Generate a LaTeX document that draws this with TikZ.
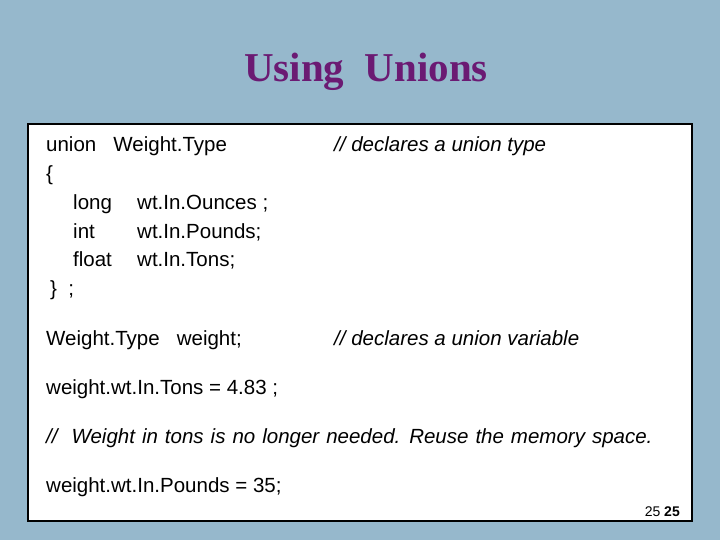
\documentclass[tikz,border=0pt]{standalone}
\usepackage{fontspec}
\setmainfont{Liberation Sans}
\newfontfamily\titlefont{Liberation Serif}
\definecolor{bg}{HTML}{96B8CC}
\definecolor{ttl}{HTML}{6B1A73}
\begin{document}
\begin{tikzpicture}[x=1pt,y=-1pt,
  tx/.style={anchor=base west,inner sep=0pt,font=\fontsize{20.5}{24}\selectfont},
  it/.style={tx,font=\fontsize{20.5}{24}\selectfont\itshape}]
\useasboundingbox (0,0) rectangle (720,540);
\fill[bg] (0,0) rectangle (720,540);
\node[anchor=base,inner sep=0pt,text=ttl,font=\fontsize{41}{48}\selectfont\titlefont\bfseries] (title) at (366,82) {Using\ \ Unions};
\draw[line width=2pt,fill=white] (28,124) rectangle (692,521);
\node[tx] (a1) at (46,152) {union\ \ \ Weight.Type};
\node[it] (c1) at (334,152) {// declares a union type};
\node[tx] (a2) at (46,181) {\{};
\node[tx] (a3) at (73,210) {long};
\node[tx] (b3) at (137,210) {wt.In.Ounces ;};
\node[tx] (a4) at (73,238) {int};
\node[tx] (b4) at (137,238) {wt.In.Pounds;};
\node[tx] (a5) at (73,266) {float};
\node[tx] (b5) at (137,266) {wt.In.Tons;};
\node[tx] (a6) at (50,295) {\}\ \ ;};
\node[tx] (a7) at (46,345) {Weight.Type\ \ \ weight;};
\node[it] (c7) at (334,345) {// declares a union variable};
\node[tx] (a8) at (46,394) {weight.wt.In.Tons = 4.83 ;};
\node[it] (a9) at (46,443) {\spaceskip=7pt plus 1pt\relax //\ \ Weight in tons is no longer needed. Reuse the memory space.};
\node[tx] (a10) at (46,492) {weight.wt.In.Pounds = 35;};
\node[anchor=base east,inner sep=0pt,font=\fontsize{14}{16}\selectfont] (pn) at (680,516) {25 \textbf{25}};
\end{tikzpicture}
\end{document}
